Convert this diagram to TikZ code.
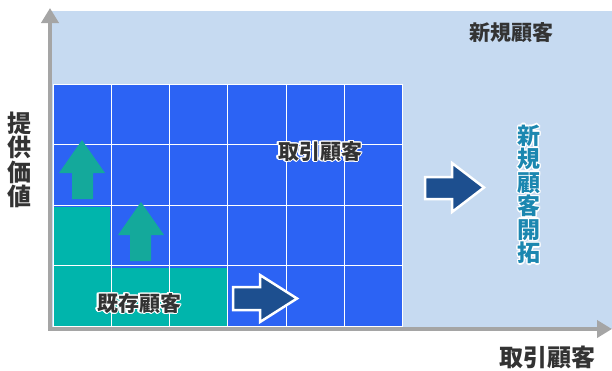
\documentclass[tikz,border=0pt]{standalone}
\usepackage{fontspec}
\newfontfamily\jpfont{Noto Sans CJK JP}
\usepackage[copies]{contour}
\contourlength{1.3pt}
\contournumber{12}
\usetikzlibrary{arrows.meta}
\definecolor{bgblue}{HTML}{C6DAF1}
\definecolor{cellblue}{HTML}{2C63F4}
\definecolor{cellteal}{HTML}{00B5AC}
\definecolor{tealarrow}{HTML}{14A99B}
\definecolor{navy}{HTML}{1D4F8F}
\definecolor{axisgray}{HTML}{A5A5A5}
\definecolor{textgray}{HTML}{333333}
\definecolor{texteal}{HTML}{1B87B0}

\begin{document}
\begin{tikzpicture}[
    x=1pt, y=-1pt,
    >={Triangle[width=17pt,length=15pt]},
    axisline/.style={draw=axisgray, line width=4pt},
    gridline/.style={draw=white, line width=1pt},
    upbox/.style={fill=tealarrow},
    rightbox/.style={fill=navy, draw=white, line width=2.5pt, line join=miter},
    celltext/.style={inner sep=0pt, text=textgray, font=\jpfont\bfseries\fontsize{21pt}{21pt}\selectfont},
    axistext/.style={inner sep=0pt, text=textgray, align=center, font=\jpfont\bfseries\fontsize{24pt}{24.5pt}\selectfont},
    newtext/.style={inner sep=0pt, text=texteal, align=center, font=\jpfont\bfseries\fontsize{23pt}{23.5pt}\selectfont}
]
    \useasboundingbox (0,0) rectangle (612,370);
    \fill[bgblue] (50,11) rectangle (612,329);
    \fill[cellblue] (53,84) rectangle (403,326);
    \fill[cellteal] (53,326) -- (227,326) -- (227,268) -- (110,268) -- (110,207) -- (53,207) -- cycle;
    \foreach \i in {0,...,6}
        \draw[gridline] (53+58.33*\i,84) -- (53+58.33*\i,326);
    \foreach \j in {0,...,4}
        \draw[gridline] (53,84+60.5*\j) -- (403,84+60.5*\j);

    \fill[upbox] (82,140) -- (105,173) -- (93,173) -- (93,199) -- (72,199) -- (72,173) -- (59,173) -- cycle;
    \fill[upbox] (141,202) -- (164,235) -- (151,235) -- (151,261) -- (130,261) -- (130,235) -- (118,235) -- cycle;
    \filldraw[rightbox] (233,287) -- (260,287) -- (260,275) -- (297,298.5) -- (260,322) -- (260,310) -- (233,310) -- cycle;
    \filldraw[rightbox] (425,177) -- (452,177) -- (452,163) -- (484,187.5) -- (452,212) -- (452,199) -- (425,199) -- cycle;

    \coordinate (origin) at (50,329);
    \coordinate (ytip) at (50,8);
    \coordinate (xtip) at (612,329);
    \draw[axisline, <->] (ytip) -- (origin) -- (xtip);

    \node[celltext] (trade) at (320,152) {\contour{white}{取引顧客}};
    \node[celltext] (existing) at (139,304) {\contour{white}{既存顧客}};
    \node[celltext] (newcust) at (511,33) {新規顧客};
    \node[newtext] (develop) at (529,195)
        {\contour{white}{新}\\\contour{white}{規}\\\contour{white}{顧}\\\contour{white}{客}\\\contour{white}{開}\\\contour{white}{拓}};
    \node[axistext] (value) at (20,160) {提\\供\\価\\値};
    \node[axistext] (xlabel) at (547,357) {取引顧客};
\end{tikzpicture}
\end{document}
